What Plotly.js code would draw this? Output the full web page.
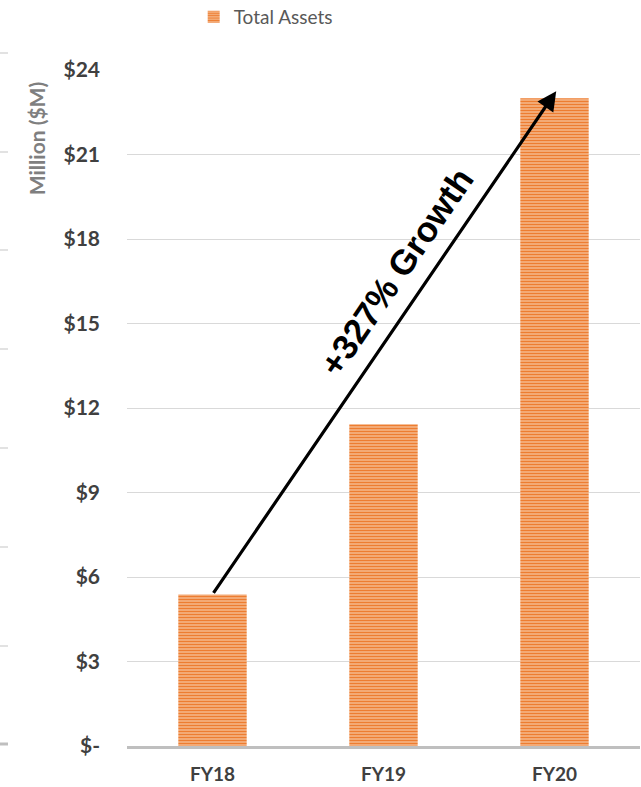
<!DOCTYPE html>
<html><head><meta charset="utf-8">
<script src="https://cdn.plot.ly/plotly-3.0.1.min.js"></script>
<style>html,body{margin:0;padding:0;background:#fff}#chart{width:641px;height:787px}</style>
</head><body><div id="chart"></div>
<script>
const categories = ['FY18', 'FY19', 'FY20'];
const totalAssets = [5.38, 11.42, 23.0];
const tickValues = [0, 3, 6, 9, 12, 15, 18, 21, 24];
const tickLabels = ['$-', '$3', '$6', '$9', '$12', '$15', '$18', '$21', '$24'];
const seriesName = 'Total Assets';
const growthLabel = '+327% Growth';

const trace = {
  type: 'bar', x: categories, y: totalAssets, name: seriesName,
  marker: {color: '#F4A56C', line: {width: 0},
    pattern: {shape: '-', fgcolor: '#ED7D31', bgcolor: '#F8C7A2', size: 3, solidity: 0.6}},
  hoverinfo: 'skip'
};

// stray tick marks at the far left edge of the picture
const leftMarks = [53, 152, 250, 349, 448, 547, 646, 744];
const shapes = leftMarks.map((py, i) => ({
  type: 'line', xref: 'paper', yref: 'paper',
  x0: -127/513, x1: -119/513, y0: (746 - py)/676, y1: (746 - py)/676,
  line: {color: i === leftMarks.length - 1 ? '#BFBFBF' : '#D9D9D9', width: i === leftMarks.length - 1 ? 3 : 1.5}
}));

const layout = {
  width: 641, height: 787,
  margin: {l: 127, r: 1, t: 70, b: 41},
  paper_bgcolor: '#fff', plot_bgcolor: '#fff',
  bargap: 0.6,
  showlegend: true,
  legend: {orientation: 'h', x: 0.13, xanchor: 'left', yref: 'container', y: 1 - 17/787, yanchor: 'middle',
    font: {family: 'Lato, sans-serif', size: 19, color: '#595959'}},
  xaxis: {type: 'category', showgrid: false, showline: true, linecolor: '#BFBFBF', linewidth: 3,
    ticks: '', ticklabelstandoff: 9,
    tickfont: {family: 'Lato, sans-serif', size: 19, color: '#404040', weight: 700}},
  yaxis: {range: [0, 24], tickvals: tickValues, ticktext: tickLabels,
    showgrid: true, gridcolor: '#D9D9D9', gridwidth: 1, zeroline: false, showline: false,
    ticks: '', ticklabelstandoff: 26,
    tickfont: {family: 'Lato, sans-serif', size: 21, color: '#404040', weight: 700}},
  shapes: shapes,
  annotations: [
    {xref: 'paper', yref: 'paper', x: -0.175, y: 0.898, xanchor: 'center', yanchor: 'middle',
     text: 'Million ($M)', showarrow: false,
     textangle: -90, font: {family: 'Lato, sans-serif', size: 21, color: '#7F7F7F', weight: 700}},
    {xref: 'x', yref: 'y', axref: 'x', ayref: 'y', x: 2.01, y: 23.25, ax: 0, ay: totalAssets[0],
     text: '', showarrow: true, arrowhead: 2, arrowsize: 1.2, arrowwidth: 3.2, arrowcolor: '#000', standoff: 0, startstandoff: 0},
    {xref: 'x', yref: 'y', x: 1.075, y: 16.85, text: growthLabel, showarrow: false, textangle: -55.6,
     font: {family: 'Liberation Sans, Arial, sans-serif', size: 35, color: '#000', weight: 700}}
  ]
};
Plotly.newPlot('chart', [trace], layout, {displayModeBar: false, staticPlot: true});
</script></body></html>
